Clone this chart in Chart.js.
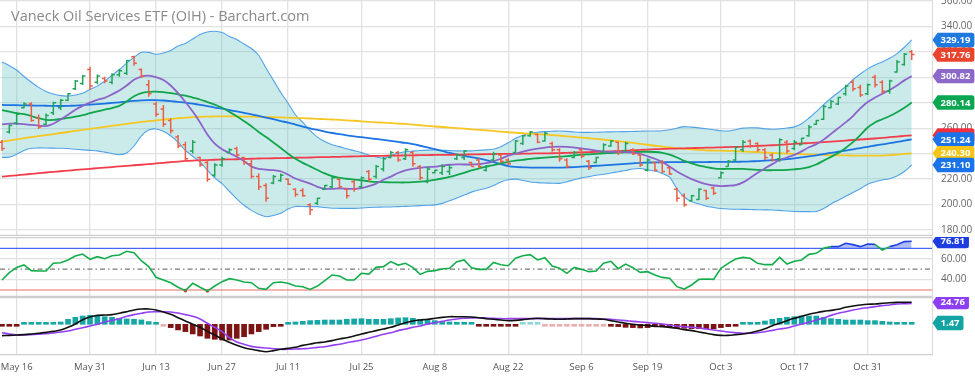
<!DOCTYPE html>
<html>
<head>
<meta charset="utf-8">
<script src="https://cdn.jsdelivr.net/npm/chart.js@4.4.1/dist/chart.umd.min.js"></script>
<style>
  html, body { margin: 0; padding: 0; background: #fff; }
  #wrap { position: relative; width: 975px; height: 378px; overflow: hidden; }
  canvas { position: absolute; left: 0; }
  #title { position: absolute; left: 11px; top: 6px; font: 14.5px "Open Sans", sans-serif; color: #8a8a8a; pointer-events: none; white-space: nowrap; }
</style>
</head>
<body>
<div id="wrap">
  <canvas id="price" style="top:0px" width="975" height="237"></canvas>
  <canvas id="rsi" style="top:237px" width="975" height="60"></canvas>
  <canvas id="macd" style="top:297px" width="975" height="81"></canvas>
  <div id="title">Vaneck Oil Services ETF (OIH) - Barchart.com</div>
</div>
<script>
// trading days May 12 .. Nov 8 2022, x = bar index
const tickIdx = [2, 12, 21, 30, 39, 49, 59, 69, 79, 88, 98, 108, 118];
const tickLabels = ['May 16', 'May 31', 'Jun 13', 'Jun 27', 'Jul 11', 'Jul 25', 'Aug 8', 'Aug 22', 'Sep 6', 'Sep 19', 'Oct 3', 'Oct 17', 'Oct 31'];

const open = [249,257,264,276,279,268,263,272,276,282,
  291,295,306,296,299,296,302,303,316,306,
  294,279,275,266,253,247,242,237,233,223,
  231,241,244,237,232,222,215,217,219,220,
  212,211,200,201,212,214,220,212,218,214,
  226,222,228,237,241,236,241,230,218,225,
  225,226,236,237,233,235,227,235,239,235,
  241,248,254,255,250,248,243,235,237,243,
  234,233,241,246,249,242,243,239,227,233,
  233,229,212,207,203,204,211,213,221,230,
  235,243,250,248,243,239,236,249,244,247,
  254,263,267,276,279,287,296,292,287,300,
  296,289,304,310,320];
const high = [250.7,263,272.4,280.3,280.3,270.8,271.6,280.8,282.9,287.3,
  297.8,301.7,308.2,302.2,300.4,303,306.4,313.5,316.9,306.9,
  297.8,280.8,278.2,267.7,254.6,249.4,250.7,237.6,235,232.4,
  237.6,244.2,245.5,237.6,235,224.5,216.7,223.2,224.5,220.6,
  212.8,212.8,201,205.4,215.4,222,220.6,212.8,219.3,222,
  227.2,231,237.6,242.1,242.1,244.2,242.1,231,229.8,227.2,
  231.6,231,240.2,242.8,233.7,236.3,231,241.5,240.2,236.3,
  250.7,254.6,257.8,255.9,257.2,249.4,244.2,236.3,242.1,244.2,
  235,237.6,248.1,250.7,249.4,249.4,244.2,240.2,236.3,233.7,
  235,229.8,213.3,208.9,207.6,212.8,211.5,214.1,225.9,235,
  245.5,250.7,251.2,248.9,244.2,240.2,252,250.7,250.7,252.5,
  262.5,266.4,278.2,282.1,284.7,294,298,294,295,302,
  297.5,298,313.5,319,321.3];
const low = [242.1,255.9,262.5,275.6,265.1,259.3,262.5,270.3,274.2,281.3,
  289.9,293.9,289.9,294.4,295.2,294.4,300.4,301.7,309,299.6,
  284.7,269,261.2,255.9,244.2,233.7,240.2,229.8,218,221.9,
  229.8,240.2,237.6,231,220.6,211.5,202.3,215.9,218,215.4,
  206.2,206.2,191.9,199.7,211.5,212.8,212.8,204.9,210.2,212.8,
  218,220.6,225.9,236.3,233.7,235,229.8,219.3,216.7,224.6,
  223.2,223.2,235,235,229.8,228.5,225.9,233.7,232.4,231,
  240.2,246.8,253.3,248.1,249.4,241.5,233.7,228.5,236.3,236.3,
  227.2,232.4,240.2,245.5,238.9,241.5,238.9,229.8,225.9,225.9,
  224.6,223.2,202.3,198.4,202.3,203.6,203.6,207.6,220.6,229.8,
  233.7,241.5,244.7,241.5,235,233.7,233.7,240.2,242.8,246.8,
  253.3,262.5,266.4,275.6,278.2,285.5,289,284.5,286,292,
  287,287,303.5,309,313.5];
const close = [244,262,271,279,266,261,270,280,282,287,
  297,301,293,301,297,302,305,313,311,301,
  287,271,263,258,246,236,249,231,220,231,
  236,243,239,233,222,214,205,222,223,216,
  208,207,196,205,215,221,214,207,212,221,
  220,230,236,241,235,243,232,221,228,227,
  230,229,239,242,230,230,230,240,234,232,
  250,254,257,249,256,243,236,230,241,238,
  229,237,247,250,241,248,240,231,235,227,
  226,224,205,200,207,212,205,209,225,234,
  245,249,246,243,237,235,251,242,249,252,
  261,266,277,281,284,293,291,286,294,294,
  289,297,312,318,317.76];

const bbUpper = [312.0,309.0,305.6,300.5,296.0,292.0,288.8,286.8,285.5,285.2,
  286.0,287.4,290.5,293.0,297.0,301.5,306.0,311.0,315.5,319.5,
  319.5,318.0,319.0,321.0,324.5,326.5,330.0,333.5,335.5,336.0,
  335.0,332.0,329.5,326.0,322.5,317.0,307.0,297.5,288.0,279.5,
  270.5,264.5,258.0,253.0,249.5,247.0,245.5,243.8,242.3,240.8,
  239.0,237.5,236.4,238.5,240.5,241.5,242.0,242.5,242.8,242.9,
  242.7,242.4,242.2,242.1,242.2,242.6,243.0,243.5,245.5,248.5,
  252.0,254.5,256.0,256.8,257.3,257.6,257.8,257.5,257.0,256.7,
  256.7,256.8,257.0,257.1,257.2,257.3,257.4,257.6,257.8,257.8,
  258.0,258.7,260.0,261.2,260.8,260.2,259.5,258.8,258.0,257.8,
  258.8,260.0,260.3,260.2,259.5,259.1,259.5,260.1,261.0,263.5,
  268.0,273.0,278.5,283.5,288.0,292.5,298.0,302.5,306.5,309.5,
  312.0,314.8,318.5,323.5,329.19];
const bbMid = [274.2,273.0,271.8,271.0,269.5,267.8,266.5,266.5,267.2,268.0,
  269.0,270.2,271.8,273.2,274.5,275.8,277.5,281.0,285.0,287.5,
  288.5,288.7,288.3,287.5,286.5,285.5,284.0,282.5,280.5,278.5,
  276.0,272.8,269.3,265.5,261.5,257.0,253.0,248.8,244.5,240.0,
  236.0,232.8,230.0,227.2,224.5,222.3,221.0,220.3,219.7,219.0,
  218.3,217.8,217.6,217.5,217.4,217.4,217.6,218.0,218.6,219.5,
  220.5,221.7,223.3,225.0,226.8,228.3,229.8,231.0,232.3,233.6,
  234.5,235.2,235.9,236.4,236.9,237.3,237.6,238.1,238.6,239.2,
  239.5,239.8,240.2,240.5,240.8,241.0,241.2,241.4,241.5,241.3,
  240.7,239.3,237.0,234.3,232.3,230.6,229.5,228.5,228.0,228.0,
  228.0,228.0,227.7,227.3,227.0,227.0,227.1,227.3,227.7,228.3,
  229.5,231.5,234.5,237.5,240.5,244.5,249.0,254.5,260.5,264.5,
  267.0,269.5,272.5,276.0,280.14];
const bbLower = [237.1,237.3,239.5,242.5,244.2,244.5,244.4,244.3,244.2,244.0,
  243.5,243.0,242.6,242.2,241.2,240.0,239.2,240.5,246.0,254.0,
  258.5,259.4,257.5,254.0,249.0,242.5,238.0,233.5,227.0,221.0,
  216.5,210.5,204.5,199.5,195.5,192.5,190.5,191.5,193.2,196.5,
  198.5,198.5,198.4,198.4,197.8,197.2,197.1,197.1,197.1,197.3,
  197.8,198.0,198.1,198.2,198.4,198.6,198.9,199.2,199.5,199.8,
  201.0,203.0,205.2,207.5,209.8,211.5,212.8,215.0,217.8,219.5,
  220.0,219.0,217.8,217.3,217.0,216.8,216.7,218.0,219.5,221.0,
  222.0,223.0,223.8,224.8,225.8,226.8,228.0,228.3,227.3,226.4,
  224.5,221.5,212.5,206.0,202.5,200.5,198.8,197.8,197.0,196.6,
  196.4,196.3,196.2,196.0,195.9,195.8,195.5,195.0,194.6,194.5,
  194.5,194.6,197.0,200.5,203.5,206.5,209.5,212.5,216.0,218.0,
  219.3,220.3,222.5,226.0,231.10];

const maPurple = [263.0,263.5,263.6,263.2,262.5,262.0,261.6,263.5,266.8,270.5,
  274.5,277.5,280.0,282.2,283.8,286.5,289.5,293.5,298.0,300.5,
  301.2,300.0,297.8,293.5,287.5,280.5,273.0,264.5,255.0,247.8,
  243.5,240.5,237.5,234.0,230.0,228.0,227.5,227.0,226.2,223.5,
  220.5,218.5,216.5,214.0,212.4,212.4,212.8,212.5,212.3,213.0,
  214.5,216.5,219.5,222.0,224.8,226.8,228.0,228.8,229.4,229.8,
  230.6,231.3,231.6,231.5,231.5,231.7,232.5,234.0,236.0,238.5,
  240.0,241.6,243.0,244.0,244.8,245.3,245.5,245.3,244.8,244.2,
  243.3,242.3,241.6,241.4,241.5,241.3,240.8,239.8,238.0,236.0,
  233.5,230.0,226.0,222.8,220.0,217.8,216.0,215.0,214.6,214.8,
  215.4,217.5,221.0,225.0,228.5,231.8,235.0,237.0,239.0,241.8,
  245.0,247.5,251.0,255.5,260.0,264.5,269.5,275.5,280.5,284.0,
  287.0,290.0,293.5,297.5,300.82];
const maBlue = [278.2,278.1,278.0,277.9,277.8,277.7,277.6,277.5,277.4,277.5,
  277.7,278.0,278.4,278.8,279.3,279.8,280.3,280.9,281.4,281.8,
  282.0,282.0,281.7,281.2,280.6,280.0,279.2,278.3,277.3,276.2,
  275.3,274.2,273.1,272.0,270.9,269.6,268.3,267.0,265.6,264.3,
  262.8,261.3,259.8,258.6,257.3,256.2,255.3,254.4,253.6,252.9,
  252.2,251.5,250.8,250.0,249.2,248.4,247.4,246.2,244.9,243.5,
  242.1,240.6,239.3,238.2,237.2,236.3,235.0,233.4,231.8,230.3,
  229.6,229.3,229.1,229.0,229.0,229.0,229.0,229.2,229.5,229.8,
  230.1,230.5,230.8,231.2,231.6,232.0,232.4,232.8,233.0,233.2,
  233.2,233.3,233.3,233.3,233.4,233.4,233.4,233.5,233.5,233.6,
  233.6,233.7,233.9,234.2,234.5,234.9,235.3,235.7,236.3,237.0,
  237.8,238.7,239.7,240.6,241.5,242.4,243.4,244.4,245.4,246.4,
  247.3,248.2,249.2,250.2,251.24];
const maYellow = [249.4,250.3,251.2,252.1,253.0,253.8,254.6,255.4,256.2,257.0,
  257.8,258.6,259.4,260.2,261.0,261.8,262.6,263.4,264.2,264.9,
  265.5,266.1,266.7,267.3,267.8,268.3,268.6,268.9,269.1,269.2,
  269.3,269.3,269.2,269.1,269.0,268.9,268.8,268.6,268.4,268.2,
  268.0,267.8,267.6,267.3,267.1,266.8,266.5,266.1,265.8,265.4,
  265.0,264.6,264.3,264.0,263.6,263.3,262.8,262.3,261.8,261.3,
  260.9,260.5,260.0,259.6,259.1,258.7,258.2,257.8,257.3,256.8,
  256.4,256.0,255.6,255.3,254.9,254.5,254.1,253.6,253.1,252.6,
  252.1,251.6,251.0,250.4,249.8,249.2,248.5,247.7,247.0,246.2,
  245.5,244.9,244.3,243.8,243.3,242.9,242.6,242.4,242.3,242.2,
  242.0,241.7,241.4,241.2,240.9,240.6,240.3,240.1,239.8,239.6,
  239.4,239.2,239.0,238.8,238.7,238.6,238.5,238.4,238.4,238.4,
  238.5,238.8,239.3,239.8,240.30];
const maRed = [222.0,222.5,223.0,223.6,224.1,224.7,225.2,225.7,226.2,226.7,
  227.2,227.7,228.1,228.6,229.0,229.5,230.0,230.4,230.9,231.3,
  231.8,232.3,232.8,233.3,233.8,234.3,234.6,234.8,235.0,235.2,
  235.4,235.5,235.6,235.8,236.0,236.2,236.3,236.4,236.5,236.6,
  236.8,236.9,237.0,237.2,237.3,237.4,237.5,237.7,237.8,238.0,
  238.1,238.2,238.3,238.4,238.5,238.6,238.7,238.8,238.9,239.0,
  239.0,239.1,239.2,239.3,239.4,239.5,239.6,239.7,239.8,239.9,
  239.9,240.0,240.1,240.2,240.2,240.3,240.4,240.6,240.8,241.0,
  241.2,241.4,241.6,241.8,242.0,242.3,242.6,242.9,243.2,243.5,
  243.7,243.9,244.0,244.2,244.4,244.5,244.7,244.8,245.0,245.2,
  245.3,245.5,245.8,246.1,246.3,246.6,246.9,247.3,247.6,248.0,
  248.3,248.7,249.1,249.5,249.9,250.3,250.7,251.1,251.5,251.9,
  252.4,252.9,253.4,253.9,254.4];

const rsi = [39.6,46.6,51.7,54.0,48.6,48.2,48.2,55.6,56.2,58.8,
  62.6,64.5,59.4,62.0,60.0,62.9,63.6,67.1,65.8,58.1,
  52.4,42.2,39.6,37.0,32.6,29.4,36.4,32.6,29.0,33.8,
  38.0,40.9,39.6,37.7,37.0,31.6,30.6,37.0,37.7,36.4,
  33.8,33.2,30.6,33.8,38.9,44.4,43.4,39.6,39.6,46.0,
  45.3,51.7,52.4,57.2,53.9,55.6,51.7,45.0,47.9,48.6,
  50.1,50.8,57.2,58.8,51.4,49.8,49.8,56.5,54.3,53.3,
  60.4,62.9,63.9,58.8,61.0,53.0,50.8,46.0,51.7,49.8,
  47.6,48.2,55.6,57.5,50.5,54.9,51.4,46.9,47.6,44.4,
  42.1,41.2,33.2,30.9,34.8,40.2,40.5,40.2,50.8,55.6,
  59.7,61.3,60.4,55.6,54.3,54.3,61.3,54.9,57.5,58.8,
  64.2,65.2,69.96,71.6,71.6,74.8,73.5,71.6,74.1,73.8,
  68.4,71.6,73.5,76.4,76.81];

const macd = [-12.7,-12.4,-12.0,-11.6,-10.9,-10.1,-9.0,-7.9,-6.4,-3.4,
  0.4,5.2,8.2,10.0,10.4,10.8,12.3,14.1,16.0,17.1,
  17.1,16.0,13.8,11.2,7.4,3.7,0,-3.4,-7.9,-12.0,
  -16.5,-20.2,-23.6,-26.2,-28.0,-29.5,-30.7,-29.5,-28.0,-26.9,
  -25.8,-23.6,-22.1,-20.6,-19.8,-18.3,-16.5,-15.0,-13.1,-10.9,
  -9.0,-7.1,-5.3,-3.4,-0.7,1.8,3.7,4.8,5.6,6.7,
  7.8,8.5,8.5,8.5,8.2,7.4,6.3,5.6,4.8,4.1,
  4.4,5.2,6.3,6.7,6.3,5.9,5.6,5.9,6.3,6.3,
  6.3,5.9,5.6,4.1,2.6,1.1,0,-0.8,-1.5,-2.3,
  -2.6,-3.4,-4.5,-6.0,-7.1,-8.6,-10.1,-11.6,-12.4,-12.4,
  -11.6,-10.9,-9.4,-7.5,-4.9,-1.5,1.1,4.1,6.7,8.9,
  11.2,13.0,14.5,15.6,16.8,19.0,20.5,21.6,22.4,22.7,
  23.5,24.2,24.6,24.6,24.76];
const signal = [-9.4,-10.9,-12.0,-12.0,-11.6,-11.2,-10.5,-9.7,-8.6,-7.5,
  -5.6,-3.8,-1.9,0,2.6,4.4,6.3,8.9,10.8,12.3,
  13.8,14.1,14.1,13.8,12.6,10.8,8.9,5.9,1.1,-3.4,
  -8.3,-15.0,-19.8,-22.4,-24.7,-25.8,-26.5,-27.3,-28.0,-28.0,
  -27.7,-27.3,-26.9,-25.8,-25.1,-23.6,-22.4,-20.6,-19.1,-17.6,
  -15.7,-13.5,-11.2,-9.4,-7.1,-5.3,-3.4,-1.9,0.4,1.8,
  3.3,4.8,5.9,6.7,7.1,7.4,7.0,6.7,6.3,6.3,
  6.3,6.3,6.3,6.3,6.3,6.3,6.3,6.3,6.3,6.3,
  6.3,6.3,5.9,5.6,4.8,4.1,3.3,2.6,1.9,1.1,
  0.4,-0.8,-1.9,-2.6,-3.4,-4.1,-5.3,-6.4,-7.5,-8.6,
  -9.4,-10.1,-10.1,-9.4,-8.3,-6.8,-5.3,-4.1,-1.9,0.4,
  2.2,4.8,7.1,10.0,12.3,14.1,16.0,17.5,18.6,19.8,
  20.9,21.6,22.7,23.0,23.29];
const hist = [-1.9,-1.5,-1.1,0.7,1.1,1.1,1.1,1.5,2.6,5.6,
  7.8,9.3,10.1,9.3,8.5,7.8,6.7,6.0,5.6,4.9,
  3.0,1.1,-0.4,-3.7,-6.3,-8.2,-10.8,-13.1,-15.7,-16.8,
  -17.6,-17.6,-15.7,-13.9,-10.8,-8.2,-5.6,-2.6,-0.7,1.1,
  2.6,3.3,4.1,4.4,4.8,4.8,4.8,5.6,6.0,6.3,
  5.6,5.6,5.6,6.3,7.1,7.4,6.7,5.6,4.8,4.1,
  3.0,2.6,1.9,1.1,0.7,-1.1,-1.9,-2.2,-2.2,-1.9,
  -1.5,0.4,0.4,0.4,-0.3,-0.3,-0.3,-0.3,-0.3,-0.3,
  -0.3,-0.3,-0.3,-1.9,-2.6,-3.4,-3.7,-4.1,-3.7,-2.6,
  -2.6,-3.4,-3.7,-4.5,-4.9,-4.9,-4.9,-4.9,-3.7,-2.6,
  -1.5,0.7,0.7,1.5,3.7,5.6,6.7,7.8,8.5,9.3,
  9.3,9.3,7.8,6.3,5.6,4.8,4.8,4.8,4.1,4.1,
  3.3,2.6,1.9,1.5,1.47];

const priceTicks = [180, 200, 220, 240, 260, 280, 300, 320, 340, 360];
const rsiTicks = [40, 60];
const rsiLevels = [70, 50, 30];

const FONT = 'Open Sans';
const GRID = '#e2e2e2';
const X_MIN = -0.27, X_MAX = 126.77;

const pts = arr => arr.map((v, i) => ({ x: i, y: v }));

function xScale(labels) {
  return {
    type: 'linear', min: X_MIN, max: X_MAX, offset: false,
    afterBuildTicks: s => { s.ticks = tickIdx.map(v => ({ value: v })); },
    grid: { color: GRID, lineWidth: 1.3, drawTicks: false, offset: false },
    border: { display: labels, color: '#d0d0d0', width: 1.3 },
    ticks: {
      display: labels, autoSkip: false, maxRotation: 0, padding: 7, color: '#555',
      font: { family: FONT, size: 9.5 },
      callback: (v, i) => tickLabels[i]
    },
    afterFit: s => { s.paddingLeft = 0; s.paddingRight = 0; s.height = labels ? 23 : 0; }
  };
}

function yScale(min, max, ticks, showLabels, showGrid) {
  return {
    position: 'right', min, max,
    afterBuildTicks: s => { s.ticks = ticks.map(v => ({ value: v })); },
    grid: { display: showGrid, color: GRID, lineWidth: 1.3, drawTicks: false },
    border: { display: true, color: '#dadada' },
    ticks: {
      display: showLabels, padding: 9, color: '#666',
      font: { family: FONT, size: 10 },
      callback: v => v.toFixed(2)
    },
    afterFit: s => { s.width = 43; s.paddingTop = 0; s.paddingBottom = 0; }
  };
}

// OHLC bars: high-low stick, open tick left, close tick right
const ohlcPlugin = {
  id: 'ohlc',
  afterDatasetsDraw(chart) {
    const { ctx, scales: { x, y } } = chart;
    ctx.save();
    ctx.lineWidth = 1.5;
    for (let i = 0; i < close.length; i++) {
      const px = x.getPixelForValue(i);
      const yo = y.getPixelForValue(open[i]);
      const yc = y.getPixelForValue(close[i]);
      ctx.strokeStyle = close[i] >= open[i] ? '#22a458' : '#ec5d46';
      ctx.beginPath();
      ctx.moveTo(px, y.getPixelForValue(high[i]));
      ctx.lineTo(px, y.getPixelForValue(low[i]));
      ctx.moveTo(px - 2.8, yo); ctx.lineTo(px, yo);
      ctx.moveTo(px, yc); ctx.lineTo(px + 2.8, yc);
      ctx.stroke();
    }
    ctx.restore();
  }
};

// value badges on the right axis
const tagPlugin = {
  id: 'tags',
  afterDraw(chart, args, opts) {
    const { ctx, chartArea: a, scales: { y } } = chart;
    const items = opts.items || [];
    items.forEach(t => {
      const py = y.getPixelForValue(t.value);
      const text = t.value.toFixed(2);
      ctx.save();
      ctx.font = 'bold 9.5px "' + FONT + '"';
      const w = ctx.measureText(text).width + 7, h = 14.3, tip = 5, r = 2.5;
      const x0 = a.right + 0.5, x1 = x0 + tip, x2 = x1 + w;
      ctx.fillStyle = t.color;
      ctx.beginPath();
      ctx.moveTo(x0, py);
      ctx.lineTo(x1, py - h / 2);
      ctx.lineTo(x2 - r, py - h / 2);
      ctx.quadraticCurveTo(x2, py - h / 2, x2, py - h / 2 + r);
      ctx.lineTo(x2, py + h / 2 - r);
      ctx.quadraticCurveTo(x2, py + h / 2, x2 - r, py + h / 2);
      ctx.lineTo(x1, py + h / 2);
      ctx.closePath();
      ctx.fill();
      ctx.fillStyle = '#fff';
      ctx.textAlign = 'left';
      ctx.textBaseline = 'middle';
      ctx.fillText(text, x1 + 3, py + 0.5);
      ctx.restore();
    });
  }
};

const levelsPlugin = {
  id: 'levels',
  beforeDatasetsDraw(chart, args, opts) {
    const { ctx, chartArea: a, scales: { y } } = chart;
    (opts.lines || []).forEach(l => {
      const py = y.getPixelForValue(l.value);
      ctx.save();
      ctx.strokeStyle = l.color;
      ctx.lineWidth = 1.2;
      ctx.setLineDash(l.dash || []);
      ctx.beginPath();
      ctx.moveTo(a.left, py);
      ctx.lineTo(a.right, py);
      ctx.stroke();
      ctx.restore();
    });
  }
};

const framePlugin = {
  id: 'frame',
  afterDraw(chart, args, opts) {
    const { ctx, chartArea: a } = chart;
    ctx.save();
    ctx.strokeStyle = '#cdcdcd';
    ctx.lineWidth = 1.3;
    ctx.beginPath();
    if (opts.top) { ctx.moveTo(0, a.top + 0.7); ctx.lineTo(a.right, a.top + 0.7); }
    if (opts.bottom) { ctx.moveTo(0, a.bottom - 0.7); ctx.lineTo(a.right, a.bottom - 0.7); }
    ctx.stroke();
    ctx.restore();
  }
};

const base = {
  responsive: false,
  animation: false,
  events: [],
  elements: { point: { radius: 0 }, line: { tension: 0.3 } }
};

new Chart(document.getElementById('price'), {
  type: 'line',
  data: {
    datasets: [
      { data: pts(maPurple), borderColor: '#8c63c9', borderWidth: 1.8 },
      { data: pts(bbMid), borderColor: '#10a54a', borderWidth: 1.8 },
      { data: pts(maRed), borderColor: '#f23d4c', borderWidth: 1.8 },
      { data: pts(maBlue), borderColor: '#1c74e3', borderWidth: 1.8 },
      { data: pts(maYellow), borderColor: '#f6c623', borderWidth: 1.8 },
      { data: pts(bbLower), borderColor: '#52a2e8', borderWidth: 1.1 },
      { data: pts(bbUpper), borderColor: '#52a2e8', borderWidth: 1.1, fill: '-1', backgroundColor: 'rgba(110,200,200,0.36)' }
    ]
  },
  options: {
    ...base,
    layout: { padding: { left: 0, right: 0, top: 0, bottom: 1 } },
    plugins: {
      legend: { display: false }, tooltip: { enabled: false },
      frame: { bottom: true },
      tags: {
        items: [
          { value: bbUpper[bbUpper.length - 1], color: '#1f7ae0' },
          { value: close[close.length - 1], color: '#e8442e' },
          { value: maPurple[maPurple.length - 1], color: '#8c68c8' },
          { value: bbMid[bbMid.length - 1], color: '#0ba651' },
          { value: maRed[maRed.length - 1], color: '#f0303f' },
          { value: maBlue[maBlue.length - 1], color: '#1a73e8' },
          { value: maYellow[maYellow.length - 1], color: '#f5c518' },
          { value: bbLower[bbLower.length - 1], color: '#1a73e8' }
        ]
      }
    },
    scales: { x: xScale(false), y: yScale(175.39, 360.56, priceTicks, true, true) }
  },
  plugins: [ohlcPlugin, tagPlugin, framePlugin]
});

new Chart(document.getElementById('rsi'), {
  type: 'line',
  data: {
    datasets: [
      {
        data: pts(rsi), borderColor: '#14ad4b', borderWidth: 1.6, tension: 0,
        fill: { target: { value: 70 }, above: 'rgba(45,80,235,0.38)', below: 'rgba(0,0,0,0)' },
        segment: { borderColor: c => (c.p0.parsed.y >= 70 && c.p1.parsed.y >= 70) ? '#1f3fe0' : undefined }
      },
      {
        data: pts(rsi), showLine: false, pointBorderWidth: 0, pointBackgroundColor: '#f02b2b',
        pointRadius: c => (c.raw && c.raw.y < 30) ? 1.8 : 0
      }
    ]
  },
  options: {
    ...base,
    layout: { padding: 0 },
    plugins: {
      legend: { display: false }, tooltip: { enabled: false },
      frame: { top: true, bottom: true },
      levels: {
        lines: [
          { value: rsiLevels[0], color: '#4a68f2' },
          { value: rsiLevels[1], color: '#7a7a7a', dash: [5, 3, 1.5, 3] },
          { value: rsiLevels[2], color: '#f06a6a' }
        ]
      },
      tags: { items: [{ value: rsi[rsi.length - 1], color: '#1d3de0' }] }
    },
    scales: { x: xScale(false), y: yScale(23.29, 80.84, rsiTicks, true, true) }
  },
  plugins: [levelsPlugin, tagPlugin, framePlugin]
});

new Chart(document.getElementById('macd'), {
  type: 'line',
  data: {
    datasets: [
      { data: pts(macd), borderColor: '#111111', borderWidth: 1.6 },
      { data: pts(signal), borderColor: '#9440f2', borderWidth: 1.6 },
      {
        type: 'bar', data: pts(hist), barThickness: 5, minBarLength: 2,
        backgroundColor: hist.map(v => v >= 0 ? (v < 0.6 ? '#90d6d6' : '#17a6a6') : (v > -0.6 ? '#eab0b0' : '#7c1414'))
      }
    ]
  },
  options: {
    ...base,
    layout: { padding: 0 },
    plugins: {
      legend: { display: false }, tooltip: { enabled: false },
      frame: { top: true },
      tags: {
        items: [
          { value: macd[macd.length - 1], color: '#8d3df2' },
          { value: hist[hist.length - 1], color: '#12a3a3' }
        ]
      }
    },
    scales: { x: xScale(true), y: yScale(-34.38, 30.57, [0], false, false) }
  },
  plugins: [tagPlugin, framePlugin]
});
</script>
</body>
</html>
